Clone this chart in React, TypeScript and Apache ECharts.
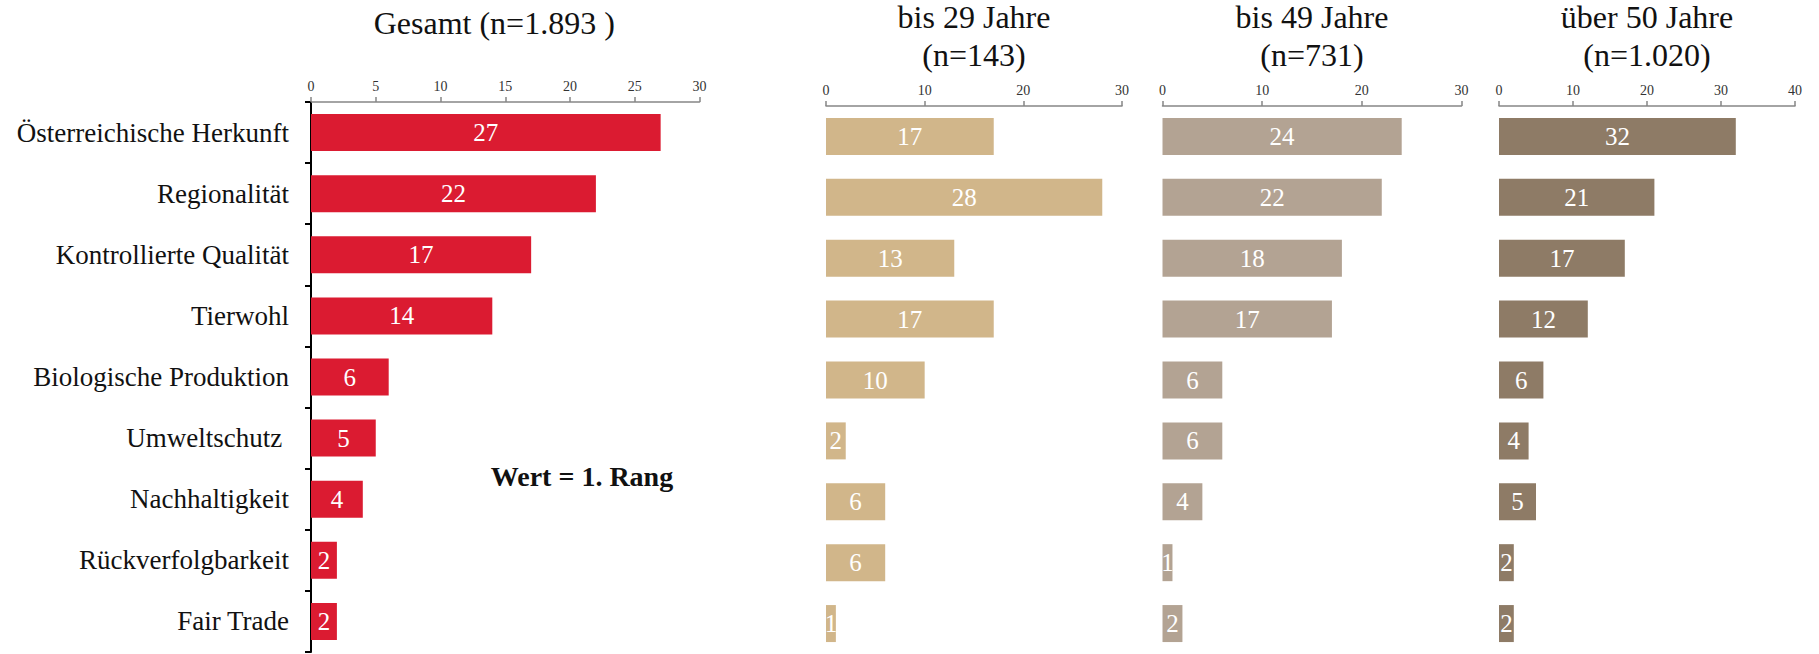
import React, { useEffect, useRef } from "react";
import * as echarts from "echarts";

const categories = [
  "Österreichische Herkunft",
  "Regionalität",
  "Kontrollierte Qualität",
  "Tierwohl",
  "Biologische Produktion",
  "Umweltschutz ",
  "Nachhaltigkeit",
  "Rückverfolgbarkeit",
  "Fair Trade",
];
const gesamt = [27, 22, 17, 14, 6, 5, 4, 2, 2];
const bis29 = [17, 28, 13, 17, 10, 2, 6, 6, 1];
const bis49 = [24, 22, 18, 17, 6, 6, 4, 1, 2];
const ueber50 = [32, 21, 17, 12, 6, 4, 5, 2, 2];

const panelTitles = [
  ["Gesamt (n=1.893 )"],
  ["bis 29 Jahre", "(n=143)"],
  ["bis 49 Jahre", "(n=731)"],
  ["über 50 Jahre", "(n=1.020)"],
];
const axisMax = [30, 30, 30, 40];
const axisInterval = [5, 10, 10, 10];
const colors = ["#DB1B31", "#D1B68A", "#B3A393", "#8E7B66"];
const note = "Wert = 1. Rang";

const FONT = "'Liberation Serif', 'DejaVu Serif', serif";

export default function App() {
  const ref = useRef<HTMLDivElement>(null);
  useEffect(() => {
    if (!ref.current) return;
    const chart = echarts.init(ref.current, null, { renderer: "svg" });
    const grids = [
      { left: 311, width: 388.5, top: 102, height: 550 },
      { left: 826, width: 296, top: 106, height: 548 },
      { left: 1162.5, width: 299, top: 106, height: 548 },
      { left: 1499, width: 296, top: 106, height: 548 },
    ];
    const seriesData = [gesamt, bis29, bis49, ueber50];

    const graphics: any[] = [];
    grids.forEach((g, i) => {
      const cx = g.left + g.width / 2;
      const lines = panelTitles[i];
      if (lines.length === 1) {
        graphics.push({
          type: "text",
          x: cx - 11,
          y: 23,
          style: {
            text: lines[0],
            fontFamily: FONT,
            fontSize: 32,
            fill: "#111",
            textAlign: "center",
            textVerticalAlign: "middle",
          },
        });
      } else {
        lines.forEach((t, k) => {
          graphics.push({
            type: "text",
            x: cx,
            y: 17 + k * 38,
            style: {
              text: t,
              fontFamily: FONT,
              fontSize: 32,
              fill: "#111",
              textAlign: "center",
              textVerticalAlign: "middle",
            },
          });
        });
      }
    });
    graphics.push({
      type: "text",
      x: 582,
      y: 476,
      style: {
        text: note,
        fontFamily: FONT,
        fontSize: 28,
        fontWeight: "bold",
        fill: "#111",
        textAlign: "center",
        textVerticalAlign: "middle",
      },
    });

    chart.setOption({
      animation: false,
      backgroundColor: "#ffffff",
      grid: grids.map((g) => ({ left: g.left, width: g.width, top: g.top, height: g.height })),
      xAxis: grids.map((g, i) => ({
        type: "value",
        gridIndex: i,
        position: "top",
        min: 0,
        max: axisMax[i],
        interval: axisInterval[i],
        splitLine: { show: false },
        axisLine: { show: true, lineStyle: { color: "#868686", width: 1.5 } },
        axisTick: { show: true, length: 5, lineStyle: { color: "#868686", width: 1.5 } },
        axisLabel: { fontFamily: FONT, fontSize: 14, color: "#333", margin: 9 },
      })),
      yAxis: grids.map((g, i) => ({
        type: "category",
        gridIndex: i,
        inverse: true,
        data: categories,
        show: i === 0,
        axisLine: { show: i === 0, lineStyle: { color: "#000", width: 2 } },
        axisTick: { show: i === 0, length: 6, lineStyle: { color: "#000", width: 2 } },
        axisLabel: {
          show: i === 0,
          fontFamily: FONT,
          fontSize: 27,
          color: "#111",
          margin: 22,
        },
      })),
      series: seriesData.map((d, i) => ({
        type: "bar",
        xAxisIndex: i,
        yAxisIndex: i,
        data: d,
        barWidth: 37,
        itemStyle: { color: colors[i] },
        label: {
          show: true,
          position: "inside",
          color: "#fff",
          fontFamily: FONT,
          fontSize: 25,
        },
      })),
      graphic: graphics,
    });
    return () => chart.dispose();
  }, []);
  return (
    <div
      ref={ref}
      style={{ position: "fixed", left: 0, top: 0, width: 1819, height: 654 }}
    />
  );
}
